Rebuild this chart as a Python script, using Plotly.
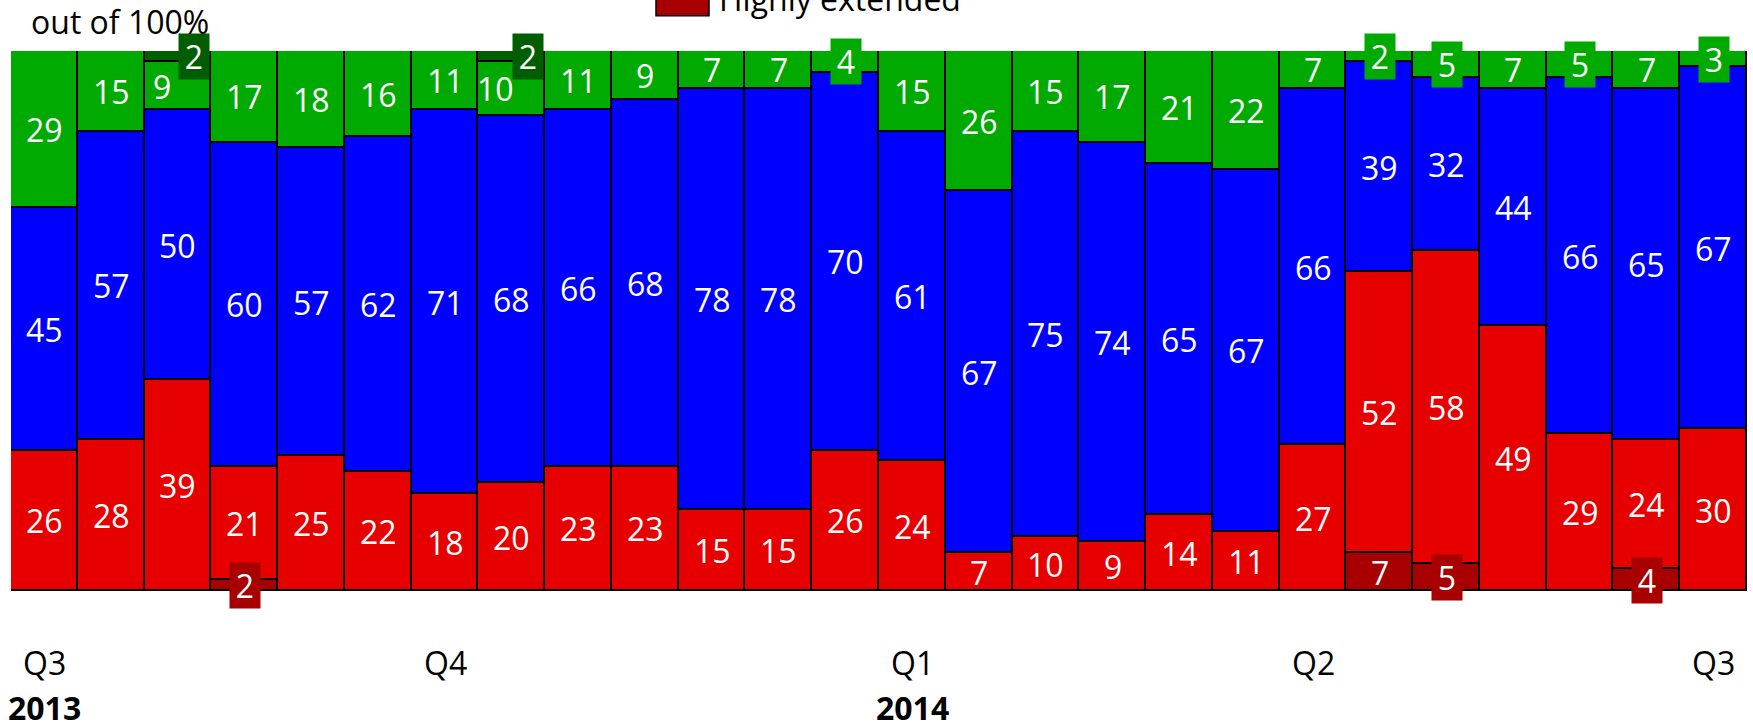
import plotly.graph_objects as go

# Survey waves from Q3 2013 to Q3 2014 (one bar per wave)
waves = list(range(26))

# Shares of respondents, stacked bottom to top (percent)
highly_extended = [None, None, None, 2, None, None, None, None, None, None, None, None, None,
                   None, None, None, None, None, None, None, 7, 5, None, None, 4, None]
extended = [26, 28, 39, 21, 25, 22, 18, 20, 23, 23, 15, 15, 26,
            24, 7, 10, 9, 14, 11, 27, 52, 58, 49, 29, 24, 30]
balanced = [45, 57, 50, 60, 57, 62, 71, 68, 66, 68, 78, 78, 70,
            61, 67, 75, 74, 65, 67, 66, 39, 32, 44, 66, 65, 67]
some_slack = [29, 15, 9, 17, 18, 16, 11, 10, 11, 9, 7, 7, 4,
              15, 26, 15, 17, 21, 22, 7, 2, 5, 7, 5, 7, 3]
high_slack = [None, None, 2, None, None, None, None, 2, None, None, None, None, None,
              None, None, None, None, None, None, None, None, None, None, None, None, None]

# Axis labels
quarter_pos = [0, 6, 13, 19, 25]
quarter_labels = ["Q3", "Q4", "Q1", "Q2", "Q3"]
year_pos = [0, 13]
year_labels = ["2013", "2014"]

series = [
    ("Highly extended", highly_extended, "#A80000"),
    ("Extended", extended, "#E60000"),
    ("Balanced", balanced, "#0000FF"),
    ("Some slack", some_slack, "#00AA00"),
    ("High slack", high_slack, "#005E00"),
]

W, H = 1753, 723
M_L, M_R, M_T, M_B = 11, 6, 51, 132
PLOT_W = W - M_L - M_R
PLOT_H = H - M_T - M_B
FONT = "Open Sans"


def px_x(px):
    return (px - M_L) / PLOT_W


def px_y(px):
    return (H - M_B - px) / PLOT_H


fig = go.Figure()
for name, vals, color in series:
    fig.add_trace(go.Bar(
        x=waves, y=vals, name=name,
        marker=dict(color=color, line=dict(color="black", width=1.8)),
        hoverinfo="skip", showlegend=False,
    ))

annotations = []

# Value labels centred in each segment; thin segments get a coloured tag
for i in waves:
    base = 0.0
    for name, vals, color in series:
        v = vals[i]
        if v is None:
            continue
        mid = base + v / 2.0
        base += v
        shift = 0
        if high_slack[i] is not None:
            if name == "Some slack":
                shift = -16
            elif name == "High slack":
                shift = 16
        ann = dict(
            x=i, y=mid, xref="x", yref="y", text=str(v), showarrow=False,
            font=dict(family=FONT, size=32, color="white"),
            xanchor="center", yanchor="middle", xshift=shift,
        )
        if v <= 5:
            ann.update(bgcolor=color, width=30, height=45, borderpad=0)
        annotations.append(ann)

# Quarter and year labels under the bars
for p, t in zip(quarter_pos, quarter_labels):
    annotations.append(dict(
        x=p, y=px_y(662.5), xref="x", yref="paper", text=t, showarrow=False,
        font=dict(family=FONT, size=32, color="black"),
        xanchor="center", yanchor="middle",
    ))
for p, t in zip(year_pos, year_labels):
    annotations.append(dict(
        x=p, y=px_y(707), xref="x", yref="paper", text="<b>" + t + "</b>",
        showarrow=False, font=dict(family=FONT, size=32, color="black"),
        xanchor="center", yanchor="middle",
    ))

# Axis caption
annotations.append(dict(
    x=px_x(29), y=px_y(21.6), xref="paper", yref="paper", text="out of 100%",
    showarrow=False, font=dict(family=FONT, size=32, color="black"),
    xanchor="left", yanchor="middle",
))

# Legend entry
annotations.append(dict(
    x=px_x(717), y=px_y(-1), xref="paper", yref="paper", text="Highly extended",
    showarrow=False, font=dict(family=FONT, size=32, color="black"),
    xanchor="left", yanchor="middle",
))

shapes = [dict(
    type="rect", xref="paper", yref="paper",
    x0=px_x(656), x1=px_x(709), y0=px_y(15.7), y1=px_y(-6),
    fillcolor="#A80000", line=dict(color="black", width=1.5),
)]

fig.update_layout(
    width=W, height=H,
    margin=dict(l=M_L, r=M_R, t=M_T, b=M_B, autoexpand=False),
    barmode="stack", bargap=0,
    paper_bgcolor="white", plot_bgcolor="white",
    xaxis=dict(range=[-0.5, 25.5], showticklabels=False, showgrid=False,
               zeroline=False, showline=False, ticks=""),
    yaxis=dict(range=[0, 100], showticklabels=False, showgrid=False,
               zeroline=False, showline=False, ticks=""),
    annotations=annotations, shapes=shapes,
    font=dict(family=FONT),
)

fig.write_html("out.html")
